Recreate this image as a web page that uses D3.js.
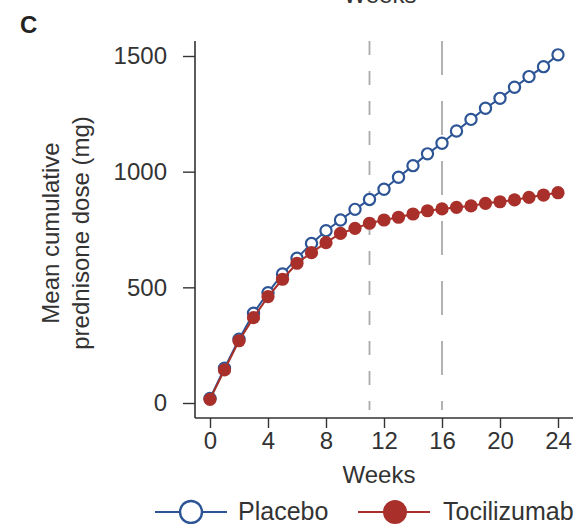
<!DOCTYPE html>
<html>
<head>
<meta charset="utf-8">
<script src="https://cdn.jsdelivr.net/npm/d3@7"></script>
<style>
  html, body { margin: 0; padding: 0; background: #fff; }
  svg { display: block; font-family: "Liberation Sans", Arial, sans-serif; }
</style>
</head>
<body>
<svg id="chart" width="586" height="524"></svg>
<script>
// Mean cumulative prednisone dose by week
const weeks = [0, 1, 2, 3, 4, 5, 6, 7, 8, 9, 10, 11, 12, 13, 14, 15, 16, 17, 18, 19, 20, 21, 22, 23, 24];
const placebo = [20, 150, 276, 388, 477, 558, 626, 690, 745, 791, 837, 880, 924, 976, 1026, 1077, 1123, 1176, 1226, 1274, 1317, 1365, 1411, 1454, 1505];
const tocilizumab = [16, 143, 269, 369, 460, 535, 604, 650, 693, 733, 755, 777, 791, 803, 817, 831, 839, 846, 852, 863, 870, 878, 889, 899, 909];
const xTicks = [0, 4, 8, 12, 16, 20, 24];
const yTicks = [0, 500, 1000, 1500];
const markerWeeks = [11, 16];

const svg = d3.select("#chart");
const textColor = "#333";
const blue = "#2d5595";
const red = "#a9302a";

const x = d3.scaleLinear().domain([0, 24]).range([210, 558]);
const y = d3.scaleLinear().domain([0, 1500]).range([403, 56]);

// Axis title of the panel above, running off the top edge
svg.append("text").attr("x", 380).attr("y", 3).attr("text-anchor", "middle")
  .attr("font-size", 24).attr("fill", textColor).text("Weeks");

// Panel letter
svg.append("text").attr("x", 20).attr("y", 33).attr("font-size", 24)
  .attr("font-weight", "bold").attr("fill", "#222").text("C");

// Reference lines at weeks 11 and 16
svg.append("line").attr("x1", x(markerWeeks[0])).attr("x2", x(markerWeeks[0]))
  .attr("y1", 41).attr("y2", 410).attr("stroke", "#aaa").attr("stroke-width", 1.8)
  .attr("stroke-dasharray", "14 16");
svg.append("line").attr("x1", x(markerWeeks[1])).attr("x2", x(markerWeeks[1]))
  .attr("y1", 41).attr("y2", 410).attr("stroke", "#aaa").attr("stroke-width", 1.8)
  .attr("stroke-dasharray", "34 26");

// Y axis
const yAxis = d3.axisLeft(y).tickValues(yTicks).tickFormat(d3.format("d"))
  .tickSize(12).tickPadding(16);
const gy = svg.append("g").attr("transform", "translate(195,0)").call(yAxis);
gy.select(".domain").remove();
gy.append("line").attr("x1", 0).attr("x2", 0).attr("y1", 41).attr("y2", 418)
  .attr("stroke", textColor).attr("stroke-width", 1.6);
gy.selectAll(".tick line").attr("stroke", textColor).attr("stroke-width", 1.4);
gy.selectAll(".tick text").attr("font-size", 24).attr("fill", textColor)
  .attr("font-family", "Liberation Sans, Arial, sans-serif");

// X axis
const xAxis = d3.axisBottom(x).tickValues(xTicks).tickFormat(d3.format("d"))
  .tickSize(10).tickPadding(4);
const gx = svg.append("g").attr("transform", "translate(0,418)").call(xAxis);
gx.select(".domain").remove();
gx.append("line").attr("x1", 195).attr("x2", 573).attr("y1", 0).attr("y2", 0)
  .attr("stroke", textColor).attr("stroke-width", 1.6);
gx.selectAll(".tick line").attr("stroke", textColor).attr("stroke-width", 1.4);
gx.selectAll(".tick text").attr("font-size", 24).attr("fill", textColor)
  .attr("font-family", "Liberation Sans, Arial, sans-serif");

// Axis titles
svg.append("text").attr("x", 379).attr("y", 483).attr("text-anchor", "middle")
  .attr("font-size", 24).attr("fill", textColor).text("Weeks");
const yTitle = svg.append("text").attr("transform", "translate(0,233) rotate(-90)")
  .attr("text-anchor", "middle").attr("font-size", 24).attr("fill", textColor);
yTitle.append("tspan").attr("x", 0).attr("y", 59).text("Mean cumulative");
yTitle.append("tspan").attr("x", 0).attr("y", 89).text("prednisone dose (mg)");

// Series
const line = d3.line().x((d, i) => x(weeks[i])).y(d => y(d));

svg.append("path").datum(placebo).attr("d", line).attr("fill", "none")
  .attr("stroke", blue).attr("stroke-width", 2);
svg.append("g").selectAll("circle").data(placebo).join("circle")
  .attr("cx", (d, i) => x(weeks[i])).attr("cy", d => y(d)).attr("r", 5.6)
  .attr("fill", "#fff").attr("stroke", blue).attr("stroke-width", 2.2);

svg.append("path").datum(tocilizumab).attr("d", line).attr("fill", "none")
  .attr("stroke", red).attr("stroke-width", 2);
svg.append("g").selectAll("circle").data(tocilizumab).join("circle")
  .attr("cx", (d, i) => x(weeks[i])).attr("cy", d => y(d)).attr("r", 6.6)
  .attr("fill", red);

// Legend
const legend = svg.append("g").attr("transform", "translate(0,512)");
legend.append("line").attr("x1", 155).attr("x2", 227).attr("stroke", blue).attr("stroke-width", 2);
legend.append("circle").attr("cx", 191).attr("r", 11).attr("fill", "#fff")
  .attr("stroke", blue).attr("stroke-width", 2.4);
legend.append("text").attr("x", 238).attr("y", 8).attr("font-size", 25)
  .attr("fill", textColor).text("Placebo");
legend.append("line").attr("x1", 358).attr("x2", 430).attr("stroke", red).attr("stroke-width", 2);
legend.append("circle").attr("cx", 395).attr("r", 12).attr("fill", red);
legend.append("text").attr("x", 443).attr("y", 8).attr("font-size", 25)
  .attr("fill", textColor).text("Tocilizumab");
</script>
</body>
</html>
